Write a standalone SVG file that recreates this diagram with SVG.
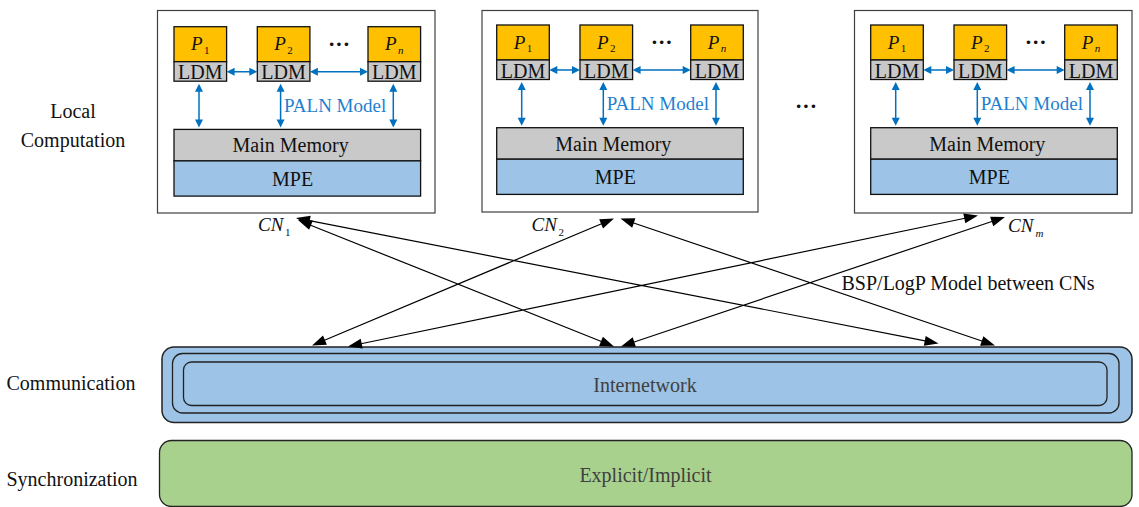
<svg xmlns="http://www.w3.org/2000/svg" width="1139" height="507" viewBox="0 0 1139 507">
<style>
text{fill:#111}
.lbl{font-size:20px}
.ldm{font-size:20px;text-anchor:middle}
.p{font-size:19px;font-style:italic}
.sub{font-size:11px}
.mm{font-size:20px;text-anchor:middle}
.paln{font-size:19px;fill:#1f7fcf}
.dots{font-size:22px;font-weight:bold;text-anchor:middle}
.outer{fill:#fff;stroke:#404040;stroke-width:1.2}
.proc{fill:#FFC000;stroke:#111;stroke-width:1.3}
.ldmr{fill:#C8C8C8;stroke:#111;stroke-width:1.3}
.mem{fill:#C9C9C9;stroke:#111;stroke-width:1.3}
.mpe{fill:#9DC3E6;stroke:#111;stroke-width:1.3}
.bl{stroke:#0070C0;stroke-width:1.5;fill:none}
.bh{fill:#0070C0}
.kl{stroke:#000;stroke-width:1.2;fill:none}
.kh{fill:#000}
</style>

<g id="labels">
<text class="lbl" font-family="Liberation Serif" x="73" y="118" text-anchor="middle">Local</text>
<text class="lbl" font-family="Liberation Serif" x="73" y="147" text-anchor="middle">Computation</text>
<text class="lbl" font-family="Liberation Serif" x="6.5" y="389.5">Communication</text>
<text class="lbl" font-family="Liberation Serif" x="6.5" y="486">Synchronization</text>
</g>

<g id="cn1">
<rect class="outer" x="157.5" y="10.5" width="277.5" height="202.5"/>
<rect class="proc" x="174" y="26.7" width="52.6" height="35"/>
<rect class="ldmr" x="174" y="61.7" width="52.6" height="19.5"/>
<rect class="proc" x="257.3" y="26.7" width="52.6" height="35"/>
<rect class="ldmr" x="257.3" y="61.7" width="52.6" height="19.5"/>
<rect class="proc" x="368" y="26.7" width="52.6" height="35"/>
<rect class="ldmr" x="368" y="61.7" width="52.6" height="19.5"/>
<text class="p" font-family="Liberation Serif" x="191" y="50.2">P</text><text class="sub" font-family="Liberation Serif" x="204" y="53.7">1</text>
<text class="p" font-family="Liberation Serif" x="274.3" y="50.2">P</text><text class="sub" font-family="Liberation Serif" x="287.3" y="53.7">2</text>
<text class="p" font-family="Liberation Serif" x="385" y="50.2">P</text><text class="sub" font-family="Liberation Serif" x="398" y="53.7" font-style="italic">n</text>
<text class="dots" font-family="Liberation Serif" x="339" y="50.7">&#183;&#183;&#183;</text>
<text class="ldm" font-family="Liberation Serif" x="200.3" y="79.4">LDM</text>
<text class="ldm" font-family="Liberation Serif" x="283.6" y="79.4">LDM</text>
<text class="ldm" font-family="Liberation Serif" x="394.3" y="79.4">LDM</text>
<path class="bl" d="M232,71.7H252M315,71.7H363M199,89V122M280.6,89V122M393.3,89V122"/>
<path class="bh" d="M226.6,71.7L234.6,67.7V75.7Z M257.3,71.7L249.3,67.7V75.7Z M309.9,71.7L317.9,67.7V75.7Z M368,71.7L360,67.7V75.7Z M199,83.7L195,91.7H203Z M199,127.4L195,119.4H203Z M280.6,83.7L276.6,91.7H284.6Z M280.6,127.4L276.6,119.4H284.6Z M393.3,83.7L389.3,91.7H397.3Z M393.3,127.4L389.3,119.4H397.3Z"/>
<text class="paln" font-family="Liberation Serif" x="284" y="111.7">PALN Model</text>
<rect class="mem" x="174" y="129.4" width="246.6" height="31.5"/>
<rect class="mpe" x="174" y="160.9" width="246.6" height="35.2"/>
<text class="mm" font-family="Liberation Serif" x="290.6" y="152.4">Main Memory</text>
<text class="mm" font-family="Liberation Serif" x="292.6" y="185.7">MPE</text>
<text class="p" font-family="Liberation Serif" x="258" y="231" font-size="20">CN</text><text class="sub" font-family="Liberation Serif" x="285" y="236">1</text>
</g>

<g id="cn2">
<rect class="outer" x="482" y="10.5" width="276" height="201.5"/>
<rect class="proc" x="496.7" y="25" width="52.6" height="35"/>
<rect class="ldmr" x="496.7" y="60" width="52.6" height="19.5"/>
<rect class="proc" x="580" y="25" width="52.6" height="35"/>
<rect class="ldmr" x="580" y="60" width="52.6" height="19.5"/>
<rect class="proc" x="690.7" y="25" width="52.6" height="35"/>
<rect class="ldmr" x="690.7" y="60" width="52.6" height="19.5"/>
<text class="p" font-family="Liberation Serif" x="513.7" y="48.5">P</text><text class="sub" font-family="Liberation Serif" x="526.7" y="52">1</text>
<text class="p" font-family="Liberation Serif" x="597" y="48.5">P</text><text class="sub" font-family="Liberation Serif" x="610" y="52">2</text>
<text class="p" font-family="Liberation Serif" x="707.7" y="48.5">P</text><text class="sub" font-family="Liberation Serif" x="720.7" y="52" font-style="italic">n</text>
<text class="dots" font-family="Liberation Serif" x="661.7" y="49">&#183;&#183;&#183;</text>
<text class="ldm" font-family="Liberation Serif" x="523" y="77.7">LDM</text>
<text class="ldm" font-family="Liberation Serif" x="606.3" y="77.7">LDM</text>
<text class="ldm" font-family="Liberation Serif" x="717" y="77.7">LDM</text>
<path class="bl" d="M555,70H575M638,70H686M521.7,87V120M603.3,87V120M716,87V120"/>
<path class="bh" d="M549.3,70L557.3,66V74Z M580,70L572,66V74Z M632.6,70L640.6,66V74Z M690.7,70L682.7,66V74Z M521.7,82L517.7,90H525.7Z M521.7,125.7L517.7,117.7H525.7Z M603.3,82L599.3,90H607.3Z M603.3,125.7L599.3,117.7H607.3Z M716,82L712,90H720Z M716,125.7L712,117.7H720Z"/>
<text class="paln" font-family="Liberation Serif" x="606.7" y="110">PALN Model</text>
<rect class="mem" x="496.7" y="127.7" width="246.6" height="31.5"/>
<rect class="mpe" x="496.7" y="159.2" width="246.6" height="35.2"/>
<text class="mm" font-family="Liberation Serif" x="613.3" y="150.7">Main Memory</text>
<text class="mm" font-family="Liberation Serif" x="615.3" y="184">MPE</text>
<text class="p" font-family="Liberation Serif" x="531.5" y="231" font-size="20">CN</text><text class="sub" font-family="Liberation Serif" x="558.5" y="236">2</text>
</g>

<g id="cn3">
<rect class="outer" x="854.5" y="10.5" width="277.5" height="202.5"/>
<rect class="proc" x="870.7" y="25" width="52.6" height="35"/>
<rect class="ldmr" x="870.7" y="60" width="52.6" height="19.5"/>
<rect class="proc" x="954" y="25" width="52.6" height="35"/>
<rect class="ldmr" x="954" y="60" width="52.6" height="19.5"/>
<rect class="proc" x="1064.7" y="25" width="52.6" height="35"/>
<rect class="ldmr" x="1064.7" y="60" width="52.6" height="19.5"/>
<text class="p" font-family="Liberation Serif" x="887.7" y="48.5">P</text><text class="sub" font-family="Liberation Serif" x="900.7" y="52">1</text>
<text class="p" font-family="Liberation Serif" x="971" y="48.5">P</text><text class="sub" font-family="Liberation Serif" x="984" y="52">2</text>
<text class="p" font-family="Liberation Serif" x="1081.7" y="48.5">P</text><text class="sub" font-family="Liberation Serif" x="1094.7" y="52" font-style="italic">n</text>
<text class="dots" font-family="Liberation Serif" x="1035.7" y="49">&#183;&#183;&#183;</text>
<text class="ldm" font-family="Liberation Serif" x="897" y="77.7">LDM</text>
<text class="ldm" font-family="Liberation Serif" x="980.3" y="77.7">LDM</text>
<text class="ldm" font-family="Liberation Serif" x="1091" y="77.7">LDM</text>
<path class="bl" d="M929,70H949M1012,70H1060M895.7,87V120M977.3,87V120M1090,87V120"/>
<path class="bh" d="M923.3,70L931.3,66V74Z M954,70L946,66V74Z M1006.6,70L1014.6,66V74Z M1064.7,70L1056.7,66V74Z M895.7,82L891.7,90H899.7Z M895.7,125.7L891.7,117.7H899.7Z M977.3,82L973.3,90H981.3Z M977.3,125.7L973.3,117.7H981.3Z M1090,82L1086,90H1094Z M1090,125.7L1086,117.7H1094Z"/>
<text class="paln" font-family="Liberation Serif" x="980.7" y="110">PALN Model</text>
<rect class="mem" x="870.7" y="127.7" width="246.6" height="31.5"/>
<rect class="mpe" x="870.7" y="159.2" width="246.6" height="35.2"/>
<text class="mm" font-family="Liberation Serif" x="987.3" y="150.7">Main Memory</text>
<text class="mm" font-family="Liberation Serif" x="989.3" y="184">MPE</text>
<text class="p" font-family="Liberation Serif" x="1008" y="231.5" font-size="20">CN</text><text class="sub" font-family="Liberation Serif" x="1035.5" y="236.5" font-style="italic">m</text>
</g>

<g id="midots">
<text class="dots" font-family="Liberation Serif" x="806" y="113">&#183;&#183;&#183;</text>
</g>

<g id="internetwork">
<rect x="162" y="347" width="970" height="75.5" rx="12" fill="#9DC3E6" stroke="#222" stroke-width="1.5"/>
<rect x="172.5" y="353.5" width="946.5" height="59.5" rx="10" fill="#9DC3E6" stroke="#222" stroke-width="1.3"/>
<rect x="183.5" y="362" width="923.5" height="43.5" rx="8" fill="#9DC3E6" stroke="#222" stroke-width="1.3"/>
<text class="lbl" font-family="Liberation Serif" x="645" y="391.5" text-anchor="middle" style="fill:#404040">Internetwork</text>
</g>

<g id="sync">
<rect x="159.5" y="440.5" width="972.5" height="66" rx="12" fill="#A9D18E" stroke="#222" stroke-width="1.3"/>
<text class="lbl" font-family="Liberation Serif" x="645.5" y="481.5" text-anchor="middle" style="fill:#404040">Explicit/Implicit</text>
</g>

<g id="connectors">
<path class="kl" d="M305,223 L607,343.7 M303,219.4 L931.5,342.1 M607.5,221.2 L318.5,342.8 M627,220.7 L988.5,343.3 M971,217 L355,345 M998.5,219.2 L627.5,344.3"/>
<path class="kh" d="M614,346.5L599.1,345.9L602.9,336.7Z M298,220L309.1,229.8L312.9,220.6Z M938.5,343.5L923.8,345.7L925.7,335.9Z M296,218L308.8,225.6L310.7,215.8Z M312,345.5L323,335.5L326.9,344.7Z M614,218.5L599.2,219.3L603,228.5Z M995,345.5L980.1,345.7L983.4,336.3Z M620.5,218.5L632.2,227.7L635.4,218.3Z M348,346.5L360.7,338.8L362.7,348.6Z M978,215.5L963.3,213.5L965.3,223.3Z M621,346.5L632.7,337.3L635.9,346.8Z M1005,217L990.1,216.7L993.3,226.2Z"/>
</g>
<text class="lbl" font-family="Liberation Serif" x="841.5" y="290">BSP/LogP Model between CNs</text>
</svg>
